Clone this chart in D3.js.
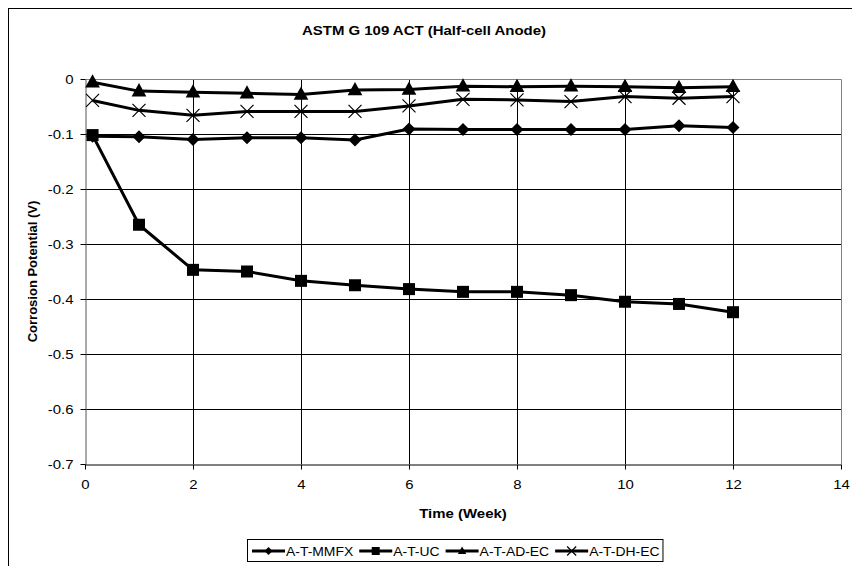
<!DOCTYPE html>
<html>
<head>
    <meta charset="UTF-8">
    <title>ASTM G 109 ACT (Half-cell Anode)</title>
    <script src="https://d3js.org/d3.v7.min.js"></script>
    <style>
        body { margin: 0; background: #fff; }
        svg text { font-family: "Liberation Sans", Arial, sans-serif; fill: #000; }
    </style>
</head>
<body>
    <svg id="chart" width="852" height="566"></svg>

    <script>
        // data
        let weeks = [0.14, 1, 2, 3, 4, 5, 6, 7, 8, 9, 10, 11, 12];
        let mmfx = [-0.104, -0.105, -0.110, -0.107, -0.107, -0.111, -0.091, -0.092, -0.092, -0.092, -0.092, -0.085, -0.088];
        let uc = [-0.102, -0.265, -0.347, -0.350, -0.367, -0.375, -0.382, -0.387, -0.387, -0.393, -0.405, -0.409, -0.424];
        let adec = [-0.006, -0.022, -0.024, -0.026, -0.028, -0.020, -0.019, -0.013, -0.014, -0.013, -0.014, -0.016, -0.014];
        let dhec = [-0.039, -0.057, -0.066, -0.059, -0.059, -0.059, -0.049, -0.037, -0.038, -0.041, -0.032, -0.035, -0.032];
        let seriesNames = ["A-T-MMFX", "A-T-UC", "A-T-AD-EC", "A-T-DH-EC"];
        let markers = ["diamond", "square", "triangle", "cross"];
        let xTicks = [0, 2, 4, 6, 8, 10, 12, 14];
        let yTicks = [0, -0.1, -0.2, -0.3, -0.4, -0.5, -0.6, -0.7];

        let series = [mmfx, uc, adec, dhec].map((vals, i) => ({
            name: seriesNames[i],
            marker: markers[i],
            points: vals.map((v, j) => ({ x: weeks[j], y: v }))
        }));

        let svg = d3.select("svg#chart");
        let margin = { top: 79, right: 11, bottom: 102, left: 85 };
        let chartWidth = 852 - margin.left - margin.right;   // 756
        let chartHeight = 566 - margin.top - margin.bottom;  // 385

        // the original picture is a bit wider than tall, so horizontal text is stretched
        function widen(sel, k) {
            k = k || 1.15;
            sel.each(function () {
                let w = this.getComputedTextLength();
                d3.select(this).attr("textLength", w * k).attr("lengthAdjust", "spacingAndGlyphs");
            });
        }

        // outer chart frame (runs off the right and bottom of the picture)
        svg.append("rect")
            .attr("x", 8.5).attr("y", 8.5)
            .attr("width", 900).attr("height", 600)
            .attr("fill", "none").attr("stroke", "#000").attr("stroke-width", 1);

        const xScale = d3.scaleLinear().domain([0, 14]).range([0, chartWidth]);
        const yScale = d3.scaleLinear().domain([-0.7, 0]).range([chartHeight, 0]);

        let chartArea = svg.append("g")
            .attr("transform", "translate(" + margin.left + "," + margin.top + ")");

        // gridlines
        chartArea.append("g").selectAll("line")
            .data(yTicks.filter(d => d < 0 && d > -0.7))
            .join("line")
            .attr("x1", 0).attr("x2", chartWidth)
            .attr("y1", d => Math.round(yScale(d)) + 0.5)
            .attr("y2", d => Math.round(yScale(d)) + 0.5)
            .attr("stroke", "#000").attr("stroke-width", 1);
        chartArea.append("g").selectAll("line")
            .data(xTicks.filter(d => d > 0 && d < 14))
            .join("line")
            .attr("x1", d => Math.round(xScale(d)) + 0.5)
            .attr("x2", d => Math.round(xScale(d)) + 0.5)
            .attr("y1", 0).attr("y2", chartHeight)
            .attr("stroke", "#000").attr("stroke-width", 1);

        // plot border: grey top / right
        chartArea.append("path")
            .attr("d", "M0.5,0.5H" + (chartWidth + 0.5) + "V" + chartHeight)
            .attr("fill", "none").attr("stroke", "#808080").attr("stroke-width", 1);

        // axes
        let leftAxis = d3.axisLeft(yScale)
            .tickValues(yTicks)
            .tickSizeInner(5).tickSizeOuter(0).tickPadding(7)
            .tickFormat(d => d === 0 ? "0" : d3.format(".1f")(d).replace("−", "-"));
        let gy = chartArea.append("g").attr("transform", "translate(0.5,0)").call(leftAxis);
        let bottomAxis = d3.axisBottom(xScale)
            .tickValues(xTicks)
            .tickSizeInner(5).tickSizeOuter(0).tickPadding(10)
            .tickFormat(d3.format("d"));
        let gx = chartArea.append("g").attr("transform", "translate(0," + (chartHeight + 0.5) + ")").call(bottomAxis);
        [gx, gy].forEach(g => {
            g.select(".domain").attr("stroke", "#000");
            g.selectAll(".tick line").attr("stroke", "#000");
            g.selectAll(".tick text").style("font-size", "13px").style("font-family", null).call(widen);
        });
        gy.select(".domain").attr("stroke", "#555");

        // marker shapes
        function drawMarker(sel, type, size) {
            let r = size / 2;
            if (type === "diamond") {
                sel.append("path")
                    .attr("d", `M0,${-r}L${r},0L0,${r}L${-r},0Z`)
                    .attr("fill", "#000");
            } else if (type === "square") {
                sel.append("rect")
                    .attr("x", -r).attr("y", -r)
                    .attr("width", size).attr("height", size)
                    .attr("fill", "#000");
            } else if (type === "triangle") {
                let h = size * 0.95, w = size * 1.05;
                sel.append("path")
                    .attr("d", `M0,${-h * 0.6}L${w / 2},${h * 0.4}L${-w / 2},${h * 0.4}Z`)
                    .attr("fill", "#000");
            } else {
                sel.append("path")
                    .attr("d", `M${-r},${-r}L${r},${r}M${-r},${r}L${r},${-r}`)
                    .attr("stroke", "#000").attr("stroke-width", 1.2).attr("fill", "none");
            }
        }

        let line = d3.line().x(d => xScale(d.x)).y(d => yScale(d.y));

        series.forEach(s => {
            chartArea.append("path")
                .datum(s.points)
                .attr("d", line)
                .attr("fill", "none")
                .attr("stroke", "#000")
                .attr("stroke-width", 3)
                .attr("stroke-linejoin", "round");
        });
        let markerSize = { diamond: 13, square: 12, triangle: 14, cross: 13 };
        series.forEach(s => {
            chartArea.append("g").selectAll("g")
                .data(s.points)
                .join("g")
                .attr("transform", d => "translate(" + xScale(d.x) + "," + yScale(d.y) + ")")
                .each(function () { drawMarker(d3.select(this), s.marker, markerSize[s.marker]); });
        });

        // titles
        svg.append("text")
            .attr("x", 424).attr("y", 35)
            .attr("text-anchor", "middle")
            .style("font-size", "13px").style("font-weight", "bold")
            .text("ASTM G 109 ACT (Half-cell Anode)")
            .call(widen);
        svg.append("text")
            .attr("x", margin.left + chartWidth / 2).attr("y", 518)
            .attr("text-anchor", "middle")
            .style("font-size", "13px").style("font-weight", "bold")
            .text("Time (Week)")
            .call(widen);
        svg.append("text")
            .attr("transform", "translate(37," + (margin.top + chartHeight / 2) + ") rotate(-90)")
            .attr("text-anchor", "middle")
            .style("font-size", "13px").style("font-weight", "bold")
            .text("Corrosion Potential (V)");

        // legend
        const legendStretch = 1.07;
        let legend = svg.append("g").attr("transform", "translate(247,539)");
        let legendFrame = legend.append("rect")
            .attr("x", 0.5).attr("y", 0.5).attr("height", 22)
            .attr("fill", "#fff").attr("stroke", "#000").attr("stroke-width", 1);
        let lx = 5;
        series.forEach(s => {
            let item = legend.append("g").attr("transform", "translate(" + lx + ",12)");
            item.append("line").attr("x1", 0).attr("x2", 33)
                .attr("stroke", "#000").attr("stroke-width", 3);
            let m = item.append("g").attr("transform", "translate(16.5,0)");
            drawMarker(m, s.marker, s.marker === "cross" ? 9 : 8);
            let t = item.append("text").attr("x", 34).attr("y", 5)
                .style("font-size", "13px").text(s.name);
            let w = t.node().getComputedTextLength();
            t.call(widen, legendStretch);
            lx += 34 + w * legendStretch + 6;
        });
        legendFrame.attr("width", lx - 3);
    </script>
</body>
</html>
